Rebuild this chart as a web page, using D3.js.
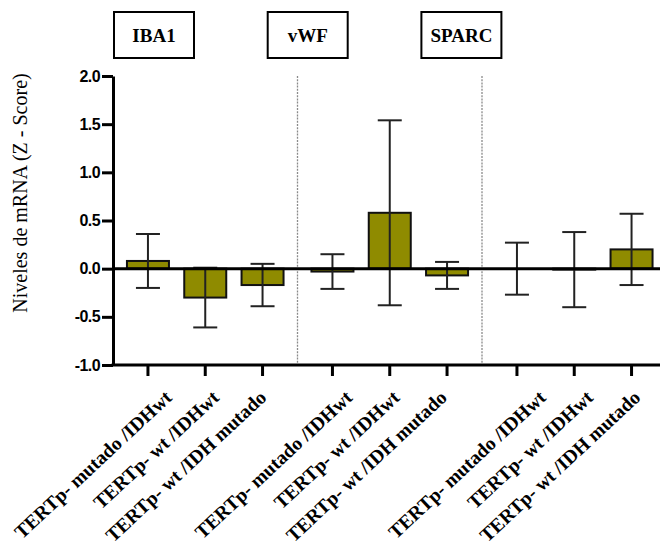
<!DOCTYPE html>
<html>
<head>
<meta charset="utf-8">
<script src="https://cdn.jsdelivr.net/npm/d3@7"></script>
<style>
  body { margin: 0; background: #fff; }
  svg { display: block; }
</style>
</head>
<body>
<div id="chart"></div>
<script>
var width = 660
var height = 552

// data
var groups = ["IBA1", "vWF", "SPARC"]
var categories = ["TERTp- mutado /IDHwt", "TERTp- wt /IDHwt", "TERTp- wt /IDH mutado"]
var iba1Mean = [0.08, -0.30, -0.17]
var iba1Sd = [0.28, 0.31, 0.22]
var vwfMean = [-0.03, 0.58, -0.07]
var vwfSd = [0.18, 0.96, 0.14]
var sparcMean = [0.00, -0.01, 0.20]
var sparcSd = [0.27, 0.39, 0.37]
var yTicks = [-1.0, -0.5, 0.0, 0.5, 1.0, 1.5, 2.0]

var means = [iba1Mean, vwfMean, sparcMean]
var sds = [iba1Sd, vwfSd, sparcSd]

var data = []
groups.forEach(function (g, gi) {
  categories.forEach(function (c, ci) {
    data.push({ group: g, gi: gi, cat: c, ci: ci, mean: means[gi][ci], sd: sds[gi][ci] })
  })
})

var plot_left = 113
var plot_top = 76
var plot_bottom = 365
var bar_w = 42
var cap = 12

var xGroup = d3.scaleBand()
  .domain(groups)
  .range([plot_left, plot_left + 3 * 184.5])

var xInner = d3.scalePoint()
  .domain(categories)
  .range([0, xGroup.bandwidth()])
  .padding(0.61)

function xPos(d) { return xGroup(d.group) + xInner(d.cat) }

var y = d3.scaleLinear()
  .domain([-1, 2])
  .range([plot_bottom, plot_top])

var svg = d3.select("#chart").append("svg")
  .attr("width", width)
  .attr("height", height)

// dashed separators between groups
svg.append("g").selectAll("line")
  .data(groups.slice(1))
  .enter()
  .append("line")
  .attr("x1", function (d) { return xGroup(d) })
  .attr("x2", function (d) { return xGroup(d) })
  .attr("y1", y(2))
  .attr("y2", plot_bottom)
  .attr("stroke", "#8a8a8a")
  .attr("stroke-width", 1.3)
  .attr("stroke-dasharray", "2,1.2")

// bars
svg.append("g").selectAll("rect")
  .data(data)
  .enter()
  .append("rect")
  .attr("x", function (d) { return xPos(d) - bar_w / 2 })
  .attr("y", function (d) { return y(Math.max(0, d.mean)) })
  .attr("width", bar_w)
  .attr("height", function (d) { return Math.abs(y(d.mean) - y(0)) })
  .attr("fill", "#8f8b00")
  .attr("stroke", "#111")
  .attr("stroke-width", 2)

// error bars
var err = svg.append("g")
  .attr("stroke", "#222")
  .attr("stroke-width", 2)

err.selectAll(".stem")
  .data(data)
  .enter()
  .append("line")
  .attr("x1", xPos)
  .attr("x2", xPos)
  .attr("y1", function (d) { return y(d.mean + d.sd) })
  .attr("y2", function (d) { return y(d.mean - d.sd) })

err.selectAll(".capHi")
  .data(data)
  .enter()
  .append("line")
  .attr("x1", function (d) { return xPos(d) - cap })
  .attr("x2", function (d) { return xPos(d) + cap })
  .attr("y1", function (d) { return y(d.mean + d.sd) })
  .attr("y2", function (d) { return y(d.mean + d.sd) })

err.selectAll(".capLo")
  .data(data)
  .enter()
  .append("line")
  .attr("x1", function (d) { return xPos(d) - cap })
  .attr("x2", function (d) { return xPos(d) + cap })
  .attr("y1", function (d) { return y(d.mean - d.sd) })
  .attr("y2", function (d) { return y(d.mean - d.sd) })

// zero line
svg.append("line")
  .attr("x1", plot_left)
  .attr("x2", width)
  .attr("y1", y(0))
  .attr("y2", y(0))
  .attr("stroke", "#000")
  .attr("stroke-width", 3)

// y axis
var yAxis = svg.append("g")
  .attr("transform", "translate(" + plot_left + ",0)")
  .call(d3.axisLeft(y).tickValues(yTicks).tickFormat(d3.format(".1f")).tickSize(11).tickSizeOuter(0).tickPadding(2))
yAxis.select(".domain").attr("stroke-width", 3).attr("stroke", "#000")
yAxis.selectAll(".tick line").attr("stroke-width", 3).attr("stroke", "#000")
yAxis.selectAll(".tick text")
  .attr("fill", "#000")
  .attr("style", "font-family:'Liberation Sans',Arial,sans-serif;font-size:16px;font-weight:700;letter-spacing:-0.6px")
  .text(function (d) { return d < 0 ? "-" + d3.format(".1f")(-d) : d3.format(".1f")(d) })

// x axis
svg.append("line")
  .attr("x1", plot_left - 1.5)
  .attr("x2", width)
  .attr("y1", plot_bottom)
  .attr("y2", plot_bottom)
  .attr("stroke", "#000")
  .attr("stroke-width", 3)

svg.append("g").selectAll("line")
  .data(data)
  .enter()
  .append("line")
  .attr("x1", xPos)
  .attr("x2", xPos)
  .attr("y1", plot_bottom)
  .attr("y2", plot_bottom + 11)
  .attr("stroke", "#000")
  .attr("stroke-width", 3)

var labelShift = [25, 21, 30]
svg.append("g").selectAll("text")
  .data(data)
  .enter()
  .append("text")
  .attr("transform", function (d) {
    return "translate(" + (xPos(d) + labelShift[d.gi] - 10 * d.ci) + "," + 399 + ") rotate(-43)"
  })
  .attr("text-anchor", "end")
  .attr("style", "font-family:'Liberation Serif','Times New Roman',serif;font-size:19.5px;font-weight:700")
  .attr("fill", "#000")
  .text(function (d) { return d.cat })

// y title
svg.append("text")
  .attr("transform", "translate(27,193) rotate(-90)")
  .attr("text-anchor", "middle")
  .attr("style", "font-family:'Liberation Serif','Times New Roman',serif;font-size:20px")
  .attr("fill", "#000")
  .text("Niveles de mRNA (Z - Score)")

// group title boxes
var titles = svg.append("g").selectAll("g")
  .data(groups)
  .enter()
  .append("g")
  .attr("transform", function (d, i) { return "translate(" + (154 + 153.7 * i) + ",35)" })

titles.append("rect")
  .attr("x", -40)
  .attr("y", -23)
  .attr("width", 80)
  .attr("height", 46)
  .attr("fill", "none")
  .attr("stroke", "#000")
  .attr("stroke-width", 2)

titles.append("text")
  .attr("text-anchor", "middle")
  .attr("y", 7)
  .attr("style", "font-family:'Liberation Serif','Times New Roman',serif;font-size:19px;font-weight:700")
  .attr("fill", "#000")
  .text(function (d) { return d })
</script>
</body>
</html>
